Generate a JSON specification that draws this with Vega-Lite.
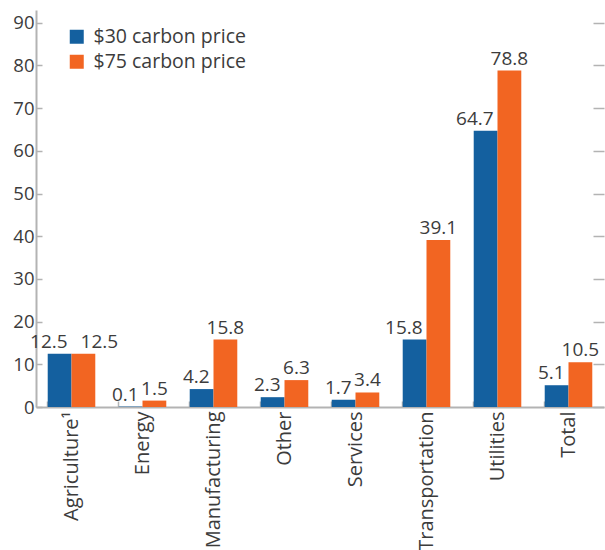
{
  "$schema": "https://vega.github.io/schema/vega-lite/v6.json",
  "width": 568,
  "height": 397,
  "autosize": {"type": "none"},
  "padding": {"left": 36, "top": 10, "right": 1, "bottom": 143},
  "background": "white",
  "config": {
    "view": {"stroke": null},
    "font": "Open Sans",
    "axis": {"labelFont": "Open Sans", "labelFontSize": 18.5, "labelColor": "#3c3c3c", "domainColor": "#b3b3b3", "tickColor": "#b3b3b3", "domainWidth": 2, "tickWidth": 1.5, "grid": false, "title": null},
    "legend": {"labelFont": "Open Sans"}
  },
  "data": {
    "values": [
      {"sector": "Agriculture¹", "series": "$30 carbon price", "value": 12.5},
      {"sector": "Agriculture¹", "series": "$75 carbon price", "value": 12.5},
      {"sector": "Energy", "series": "$30 carbon price", "value": 0.1},
      {"sector": "Energy", "series": "$75 carbon price", "value": 1.5},
      {"sector": "Manufacturing", "series": "$30 carbon price", "value": 4.2},
      {"sector": "Manufacturing", "series": "$75 carbon price", "value": 15.8},
      {"sector": "Other", "series": "$30 carbon price", "value": 2.3},
      {"sector": "Other", "series": "$75 carbon price", "value": 6.3},
      {"sector": "Services", "series": "$30 carbon price", "value": 1.7},
      {"sector": "Services", "series": "$75 carbon price", "value": 3.4},
      {"sector": "Transportation", "series": "$30 carbon price", "value": 15.8},
      {"sector": "Transportation", "series": "$75 carbon price", "value": 39.1},
      {"sector": "Utilities", "series": "$30 carbon price", "value": 64.7},
      {"sector": "Utilities", "series": "$75 carbon price", "value": 78.8},
      {"sector": "Total", "series": "$30 carbon price", "value": 5.1},
      {"sector": "Total", "series": "$75 carbon price", "value": 10.5}
    ]
  },
  "encoding": {
    "x": {
      "field": "sector", "type": "nominal", "sort": null,
      "scale": {"paddingInner": 0.33, "paddingOuter": 0.165},
      "axis": {"labelAngle": -90, "labelPadding": 10, "labelFontSize": 20, "bandPosition": 0, "tickSize": -6}
    },
    "xOffset": {"field": "series", "type": "nominal", "sort": null}
  },
  "layer": [
    {
      "mark": {"type": "bar"},
      "encoding": {
        "y": {"field": "value", "type": "quantitative", "scale": {"domain": [0, 93], "nice": false},
          "axis": {"values": [0, 10, 20, 30, 40, 50, 60, 70, 80, 90], "tickSize": -6, "labelPadding": 8}},
        "color": {"field": "series", "type": "nominal", "sort": null,
          "scale": {"range": ["#14609f", "#f26522"]},
          "legend": {"orient": "none", "legendX": 31, "legendY": 17, "title": null, "symbolType": "square", "symbolSize": 196, "symbolStrokeWidth": 0, "symbolOpacity": 1, "labelFontSize": 19.5, "labelColor": "#3c3c3c", "labelOffset": 7, "rowPadding": 4, "padding": 0}}
      }
    },
    {
      "transform": [{"filter": "datum.series === '$30 carbon price'"}],
      "mark": {"type": "text", "fontSize": 19, "color": "#3c3c3c", "baseline": "alphabetic", "align": "right", "dy": -6, "dx": 8},
      "encoding": {
        "y": {"field": "value", "type": "quantitative", "scale": {"domain": [0, 93], "nice": false},
          "axis": {"orient": "right", "values": [0, 10, 20, 30, 40, 50, 60, 70, 80, 90], "labels": false, "domain": false, "tickSize": -11}},
        "text": {"field": "value", "type": "quantitative", "format": ".1f"}
      }
    },
    {
      "transform": [{"filter": "datum.series === '$75 carbon price' && datum.sector !== 'Agriculture¹'"}],
      "mark": {"type": "text", "fontSize": 19, "color": "#3c3c3c", "baseline": "alphabetic", "dy": -6},
      "encoding": {
        "y": {"field": "value", "type": "quantitative", "scale": {"domain": [0, 93], "nice": false}, "axis": null},
        "text": {"field": "value", "type": "quantitative", "format": ".1f"}
      }
    },
    {
      "transform": [{"filter": "datum.series === '$75 carbon price' && datum.sector === 'Agriculture¹'"}],
      "mark": {"type": "text", "fontSize": 19, "color": "#3c3c3c", "baseline": "alphabetic", "dy": -6, "dx": 16},
      "encoding": {
        "y": {"field": "value", "type": "quantitative", "scale": {"domain": [0, 93], "nice": false}, "axis": null},
        "text": {"field": "value", "type": "quantitative", "format": ".1f"}
      }
    }
  ],
  "resolve": {"axis": {"y": "independent"}}
}
